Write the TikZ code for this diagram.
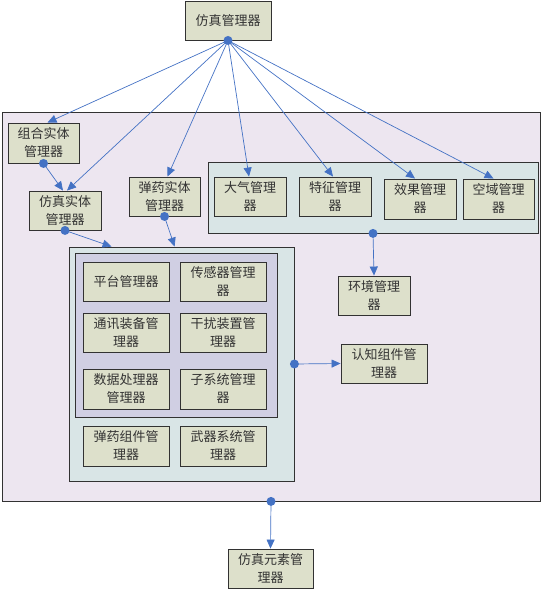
\documentclass[tikz,border=0pt]{standalone}
\usepackage{fontspec}
\newfontfamily\cjk{Noto Sans CJK SC}
\usetikzlibrary{arrows.meta,calc}
\definecolor{nodefill}{RGB}{221,224,203}
\definecolor{outerfill}{RGB}{237,230,240}
\definecolor{envfill}{RGB}{217,229,230}
\definecolor{innerfill}{RGB}{208,207,227}
\definecolor{linkblue}{RGB}{68,114,196}
\definecolor{edgegray}{RGB}{50,50,50}
\tikzset{
  mgr/.style={draw=edgegray, line width=0.9pt, fill=nodefill, align=center,
    inner sep=0pt, font=\cjk\fontsize{13}{18}\selectfont, text=black!80},
  grp/.style={draw=edgegray, line width=0.8pt, inner sep=0pt},
  link/.style={draw=linkblue, line width=0.7pt, -{Triangle[length=9pt,width=8pt]}},
  dot/.style={circle, fill=linkblue, inner sep=0pt, minimum size=9pt}
}
\begin{document}
\begin{tikzpicture}[x=1pt,y=-1pt]
\useasboundingbox (0,0) rectangle (544,591);
% groups
\node[grp, fill=outerfill, minimum width=538pt, minimum height=389pt] (outer) at (271,306.5) {};
\node[grp, fill=envfill, minimum width=330pt, minimum height=71pt] (env) at (373,197.5) {};
\node[grp, fill=envfill, minimum width=225pt, minimum height=234pt] (plat) at (181.5,364) {};
\node[grp, fill=innerfill, minimum width=202pt, minimum height=164pt] (inner) at (176,335) {};
% nodes
\node[mgr, minimum width=86pt, minimum height=39pt] (sim) at (228,20.5) {仿真管理器};
\node[mgr, minimum width=71pt, minimum height=40pt] (zh) at (43.5,143) {组合实体\\管理器};
\node[mgr, minimum width=72pt, minimum height=39pt] (fz) at (65,210.5) {仿真实体\\管理器};
\node[mgr, minimum width=71pt, minimum height=39pt] (dy) at (164.5,196.5) {弹药实体\\管理器};
\node[mgr, minimum width=72pt, minimum height=39pt] (dq) at (250,196.5) {大气管理\\器};
\node[mgr, minimum width=72pt, minimum height=39pt] (tz) at (335,196.5) {特征管理\\器};
\node[mgr, minimum width=72pt, minimum height=40pt] (xg) at (420,199) {效果管理\\器};
\node[mgr, minimum width=71pt, minimum height=40pt] (ky) at (498.5,199) {空域管理\\器};
\node[mgr, minimum width=72pt, minimum height=39pt] (hj) at (374,295.5) {环境管理\\器};
\node[mgr, minimum width=86pt, minimum height=39pt] (pt) at (126,281.5) {平台管理器};
\node[mgr, minimum width=86pt, minimum height=39pt] (cg) at (223,281.5) {传感器管理\\器};
\node[mgr, minimum width=86pt, minimum height=39pt] (tx) at (126,332.5) {通讯装备管\\理器};
\node[mgr, minimum width=86pt, minimum height=39pt] (gr) at (223,332.5) {干扰装置管\\理器};
\node[mgr, minimum width=86pt, minimum height=40pt] (sj) at (126,389) {数据处理器\\管理器};
\node[mgr, minimum width=86pt, minimum height=40pt] (zx) at (223,389) {子系统管理\\器};
\node[mgr, minimum width=86pt, minimum height=40pt] (dz) at (126,446) {弹药组件管\\理器};
\node[mgr, minimum width=86pt, minimum height=40pt] (wq) at (223,446) {武器系统管\\理器};
\node[mgr, minimum width=86pt, minimum height=39pt] (rz) at (384,363.5) {认知组件管\\理器};
\node[mgr, minimum width=85pt, minimum height=39pt] (ys) at (270.5,568.5) {仿真元素管\\理器};
% connectors
\draw[link] (sim.south) -- ([xshift=4pt]zh.north);
\draw[link] (sim.south) -- ([xshift=2pt]fz.north);
\draw[link] (sim.south) -- ([xshift=3pt]dy.north);
\draw[link] (sim.south) -- ([xshift=-1pt]dq.north);
\draw[link] (sim.south) -- ([xshift=-2pt]tz.north);
\draw[link] (sim.south) -- ([xshift=-5pt]xg.north);
\draw[link] (sim.south) -- ([xshift=-5pt]ky.north);
\draw[link] (zh.south) -- ([xshift=-2pt]fz.north);
\draw[link] (fz.south) -- ([xshift=43pt]plat.north west);
\draw[link] (dy.south) -- ([xshift=106pt]plat.north west);
\draw[link] (env.south) -- (hj.north);
\draw[link] (plat.east) -- (rz.west);
\draw[link] (outer.south) -- (ys.north);
% dots
\node[dot] at (sim.south) {};
\node[dot] at (zh.south) {};
\node[dot] at (fz.south) {};
\node[dot] at (dy.south) {};
\node[dot] at (env.south) {};
\node[dot] at (plat.east) {};
\node[dot] at (outer.south) {};
\end{tikzpicture}
\end{document}
